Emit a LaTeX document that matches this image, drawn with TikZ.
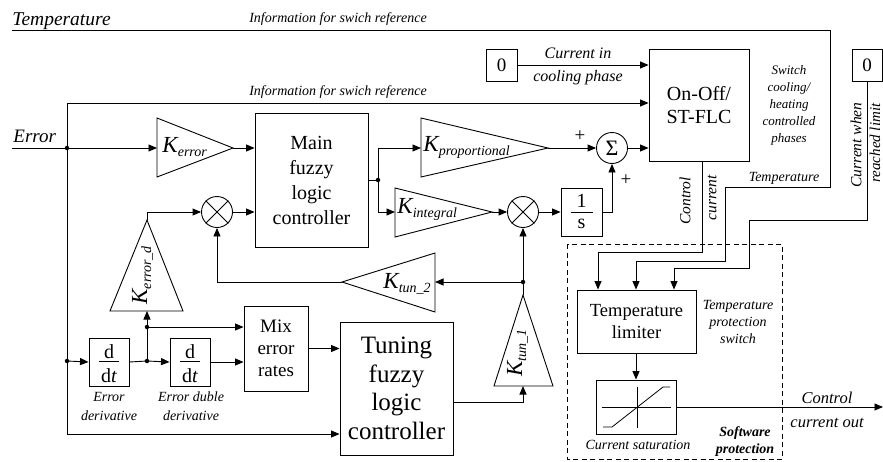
\documentclass[tikz,border=0pt]{standalone}
\usepackage{fontspec}
\setmainfont{Liberation Serif}
\usetikzlibrary{arrows.meta,calc}
\newcommand{\fs}[2]{\fontsize{#1}{#2}\selectfont}
\newcommand{\gainlbl}[1]{{\fs{23}{23}\itshape K}\raisebox{-4pt}{\fs{14}{14}\itshape #1}}
\begin{document}
\begin{tikzpicture}[x=1pt,y=-1pt,line width=0.9pt,
  blk/.style={draw, rectangle, inner sep=0pt, align=center},
  arr/.style={-{Triangle[length=8.5pt,width=7pt]}},
  jdot/.style={circle, fill, inner sep=0pt, minimum size=4.5pt},
  lbl/.style={inner sep=0pt, align=center, font=\fs{14}{17}\itshape},
  circ/.style={draw, circle, minimum size=31pt, inner sep=0pt},
  gl/.style={anchor=base west, inner sep=0pt}]
\useasboundingbox (0,0) rectangle (883,461);

% ---------- boxes ----------
\node[blk, minimum width=31pt, minimum height=32pt, font=\fs{19}{19}] (zeroA) at (501.5,65) {0};
\node[blk, minimum width=100pt, minimum height=112pt, font=\fs{20}{23}] (onoff) at (699,105) {On-Off/\\ST-FLC};
\node[blk, minimum width=30pt, minimum height=32pt, font=\fs{19}{19}] (zeroB) at (867,65) {0};
\node[blk, minimum width=113pt, minimum height=134pt, font=\fs{20}{25}] (main) at (311.5,180) {Main\\fuzzy\\logic\\controller};
\node[blk, minimum width=41pt, minimum height=48pt] (intg) at (581.5,212) {};
\node[blk, minimum width=40pt, minimum height=48pt] (ddtA) at (109,362) {};
\node[blk, minimum width=40pt, minimum height=48pt] (ddtB) at (190,362) {};
\node[blk, minimum width=64pt, minimum height=85pt, font=\fs{19}{22}] (mix) at (276,348.5) {Mix\\error\\rates};
\node[blk, minimum width=113pt, minimum height=133pt, font=\fs{25}{28.5}] (tune) at (396.5,388.5) {Tuning\\fuzzy\\logic\\controller};
\node[blk, minimum width=119pt, minimum height=63pt, font=\fs{18.5}{21.5}] (limit) at (636.5,321.5) {Temperature\\limiter};
\node[blk, minimum width=80pt, minimum height=54pt] (sat) at (636,407) {};

% fractions inside boxes
\node[anchor=base, inner sep=0pt, font=\fs{20}{20}] (intgT) at (581.5,207) {1};
\draw[line width=0.8pt] (570.5,212) -- (592.5,212);
\node[anchor=base, inner sep=0pt, font=\fs{20}{20}] (intgB) at (581.5,228) {s};
\node[anchor=base, inner sep=0pt, font=\fs{20}{20}] (ddtAT) at (109,358) {d};
\draw[line width=0.8pt] (99,361.5) -- (119,361.5);
\node[anchor=base, inner sep=0pt, font=\fs{20}{20}] (ddtAB) at (109,382) {d\textit{t}};
\node[anchor=base, inner sep=0pt, font=\fs{20}{20}] (ddtBT) at (190,358) {d};
\draw[line width=0.8pt] (180,361.5) -- (200,361.5);
\node[anchor=base, inner sep=0pt, font=\fs{20}{20}] (ddtBB) at (190,382) {d\textit{t}};

% saturation symbol
\draw[line width=0.8pt] (602,407) -- (671,407);
\draw[line width=0.8pt] (637,387) -- (637,428);
\draw[line width=0.8pt] (603,427) -- (612,427) -- (663,387) -- (670,387);

% circles
\node[circ, font=\fs{22}{22}] (sum) at (612,148) {Σ};
\node[circ] (m1) at (523,212) {};
\draw (m1.north west) -- (m1.south east) (m1.north east) -- (m1.south west);
\node[circ] (m2) at (217,212) {};
\draw (m2.north west) -- (m2.south east) (m2.north east) -- (m2.south west);

% gain triangles
\coordinate (kerrIn) at (157,148); \coordinate (kerrTip) at (233,148);
\draw (157,118) -- (157,177) -- (kerrTip) -- cycle;
\node[gl] (kerrL) at (162,152) {\gainlbl{error}};

\coordinate (kpIn) at (421,148); \coordinate (kpTip) at (548,148);
\draw (421,118) -- (421,177) -- (kpTip) -- cycle;
\node[gl] (kpL) at (423,151) {\gainlbl{proportional}};

\coordinate (kiIn) at (395,212); \coordinate (kiTip) at (492,212);
\draw (395,188) -- (395,237) -- (kiTip) -- cycle;
\node[gl] (kiL) at (397,213) {\gainlbl{integral}};

\coordinate (kt2In) at (435,282); \coordinate (kt2Tip) at (342,282);
\draw (435,253) -- (435,312) -- (kt2Tip) -- cycle;
\node[gl] (kt2L) at (383,288) {\gainlbl{tun\_2}};

\coordinate (kedIn) at (147,311); \coordinate (kedTip) at (147,220);
\draw (110,311) -- (183,311) -- (kedTip) -- cycle;
\node[gl, rotate=90] (kedL) at (147,305) {\gainlbl{error\_d}};

\coordinate (kt1In) at (523,386); \coordinate (kt1Tip) at (523,295);
\draw (494,386) -- (553,386) -- (kt1Tip) -- cycle;
\node[gl, rotate=90] (kt1L) at (522,377) {\gainlbl{tun\_1}};

% ---------- connectors ----------
\coordinate (tempIn) at (12,30);
\coordinate (errIn) at (12,148);
\coordinate (ej) at (67,148);
\coordinate (ej2) at (67,361);
\coordinate (mj) at (378,180);
\coordinate (dj) at (147,361);
\coordinate (dj2) at (147,327);
\coordinate (kj) at (523,282);
\coordinate (outEnd) at (883,407);

\draw[arr] (tempIn) -- (830,30) -- (830,187) -- (725,187) -- (725,261) -| (limit.north -| 636,0);
\draw[arr] (errIn) -- (kerrIn);
\draw[arr] (ej) |- (onoff.west |- 0,103);
\draw[arr] (ej) |- (tune.west |- 0,434);
\draw[arr] (kerrTip) -- (main.west |- kerrTip);
\draw (main.east |- mj) -- (mj);
\draw[arr] (mj) |- (kpIn);
\draw[arr] (mj) |- (kiIn);
\draw[arr] (kpTip) -- (sum.west);
\draw[arr] (kiTip) -- (m1.west);
\draw[arr] (m1.east) -- (intg.west);
\draw[arr] (intg.east) -| (sum.south);
\draw[arr] (sum.east) -- (onoff.west |- sum.east);
\draw[arr] (zeroA.east) -- (onoff.west |- zeroA.east);
\draw[arr] (onoff.south -| 702,0) -- (702,252) -| (limit.north -| 598,0);
\draw[arr] (zeroB.south) -- (867,220) -- (749,220) -- (749,268) -| (limit.north -| 674,0);
\draw[arr] (limit.south -| 636,0) -- (sat.north -| 636,0);
\draw[arr] (sat.east) -- (outEnd);
\draw[arr] (kedTip) |- (m2.west);
\draw[arr] (m2.east) -- (main.west |- m2.east);
\draw[arr] (kt1Tip) -- (m1.south);
\draw[arr] (kj) -- (kt2In);
\draw[arr] (kt2Tip) -| (m2.south);
\draw[arr] (tune.east |- 0,402) -| (kt1In);
\draw[arr] (ej2) -- (ddtA.west);
\draw (ddtA.east) -- (dj);
\draw[arr] (dj) -- (ddtB.west);
\draw[arr] (ddtB.east) -- (mix.west |- ddtB.east);
\draw (dj) -- (dj2);
\draw[arr] (dj2) -- (kedIn);
\draw[arr] (dj2) -- (mix.west |- dj2);
\draw[arr] (mix.east) -- (tune.west |- mix.east);

\foreach \p in {ej,ej2,mj,dj,dj2,kj} \node[jdot] at (\p) {};

% dashed protection area
\draw[line width=0.8pt, dash pattern=on 5pt off 3.5pt] (567,244) rectangle (782,459);

% ---------- texts ----------
\node[anchor=base west, inner sep=0pt, font=\fs{19.5}{19.5}\itshape] (tTemp) at (12,25) {Temperature};
\node[anchor=base, inner sep=0pt, font=\fs{14}{14}\itshape] (tInfo1) at (338,22) {Information for swich reference};
\node[anchor=base, inner sep=0pt, font=\fs{14}{14}\itshape] (tInfo2) at (338,95) {Information for swich reference};
\node[anchor=base west, inner sep=0pt, font=\fs{19}{19}\itshape] (tErr) at (13,142) {Error};
\node[anchor=base, inner sep=0pt, font=\fs{16}{16}\itshape] (tCur1) at (578,58) {Current in};
\node[anchor=base, inner sep=0pt, font=\fs{16}{16}\itshape] (tCur2) at (578,81) {cooling phase};
\node[lbl, font=\fs{13}{17}\itshape] (tSwitch) at (789,105) {Switch\\cooling/\\heating\\controlled\\phases};
\node[inner sep=0pt, rotate=90, font=\fs{15.5}{15.5}\itshape] (tCtl1) at (685,201) {Control};
\node[inner sep=0pt, rotate=90, font=\fs{15.5}{15.5}\itshape] (tCtl2) at (712,198) {current};
\node[anchor=base, inner sep=0pt, font=\fs{14}{14}\itshape] (tTemp2) at (784,181) {Temperature};
\node[inner sep=0pt, rotate=90, font=\fs{15.5}{15.5}\itshape] (tWhen1) at (856,145) {Current when};
\node[inner sep=0pt, rotate=90, font=\fs{15}{15}\itshape] (tWhen2) at (875,143) {reached limit};
\node[lbl] (tProt) at (738,322) {Temperature\\protection\\switch};
\node[anchor=base, inner sep=0pt, font=\fs{14}{14}\itshape] (tSat) at (638,449) {Current saturation};
\node[lbl, font=\fs{14}{17}\bfseries\itshape] (tSoft) at (745,442) {Software\\protection};
\node[anchor=base, inner sep=0pt, font=\fs{16.5}{16.5}\itshape] (tOut1) at (827,403) {Control};
\node[anchor=base, inner sep=0pt, font=\fs{16.5}{16.5}\itshape] (tOut2) at (827,427) {current out};
\node[lbl, font=\fs{14}{19}\itshape] (tDer1) at (109,406) {Error\\derivative};
\node[lbl, font=\fs{14}{19}\itshape] (tDer2) at (191,406) {Error duble\\derivative};
\node[inner sep=0pt, font=\fs{19}{19}] (tPlus1) at (580,136) {+};
\node[inner sep=0pt, font=\fs{19}{19}] (tPlus2) at (626,180) {+};
\end{tikzpicture}
\end{document}
